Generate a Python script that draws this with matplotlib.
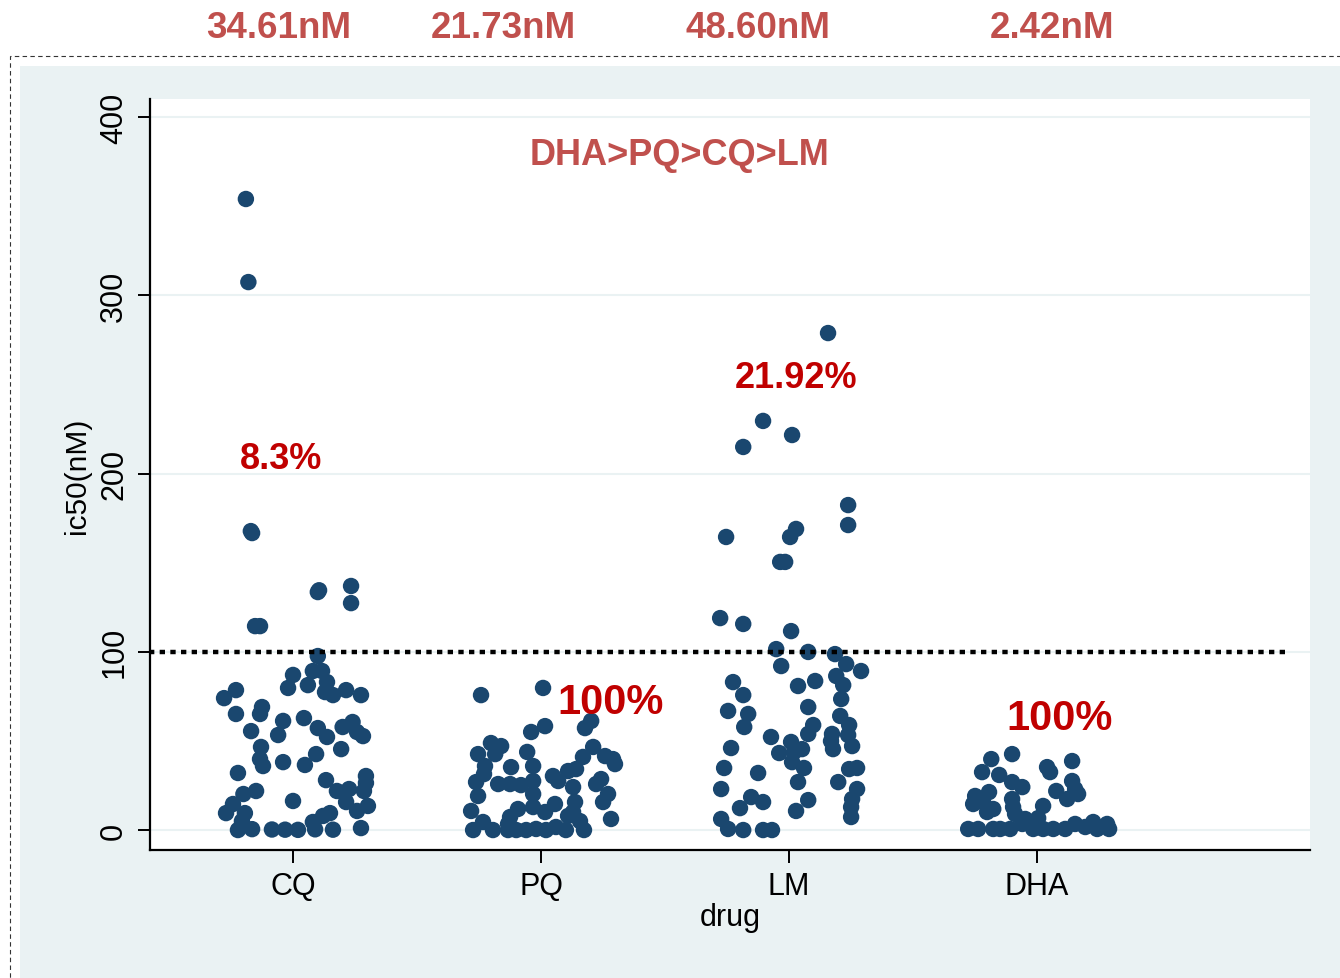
import numpy as np
import matplotlib
matplotlib.use("Agg")
import matplotlib.pyplot as plt
from matplotlib.patches import Rectangle

plt.rcParams['font.family'] = ['Liberation Sans', 'DejaVu Sans']

drugs = ["CQ", "PQ", "LM", "DHA"]
medians = ["34.61nM", "21.73nM", "48.60nM", "2.42nM"]
pct_labels = ["8.3%", "100%", "21.92%", "100%"]
ranking = "DHA>PQ>CQ>LM"
cutoff = 100

# ic50 values (nM) with the horizontal jitter seen in the picture
cq_ic50 = [354, 307.4, 166.6, 167.7, 114.4, 114.4, 133.5, 134.5, 136.9, 127.3,
           97.6, 87, 89.2, 89.2, 83, 79.7, 81.3, 78.5, 74, 77.4, 75.7, 78.5, 75.7,
           65.1, 69, 65.1, 61.2, 62.8, 57.2, 52.2, 57.8, 60.6, 55, 52.7, 55.5, 53.3,
           46.6, 45.4, 42.6, 39.8, 35.9, 38.1, 36.5, 32, 30.3, 26.4, 28, 21.9, 21.9,
           23, 20.2, 21.9, 15.7, 16.3, 14.6, 9.5, 9.5, 5, 10.7, 13.5, 9.5, 7.9, 4.5,
           0, 0.5, 0.3, 0.2, 0.1, 0.4, 0.2, 1.1]
cq_jitter = [-0.19, -0.18, -0.165, -0.17, -0.153, -0.133, 0.10, 0.105, 0.234, 0.234,
             0.10, 0.0, 0.08, 0.117, 0.137, -0.02, 0.06, -0.23, -0.278, 0.129, 0.161, 0.214, 0.274,
             -0.23, -0.125, -0.133, -0.04, 0.044, 0.10, 0.137, 0.20, 0.24, 0.258, 0.282, -0.169, -0.06,
             -0.129, 0.194, 0.093, -0.133, -0.121, -0.04, 0.048, -0.222, 0.294, 0.294, 0.133, 0.286, 0.177,
             0.226, -0.2, -0.149, 0.214, 0.0, -0.242, -0.27, -0.194, -0.206, 0.258, 0.302, 0.149, 0.121, 0.08,
             -0.222, -0.165, -0.085, -0.032, 0.02, 0.089, 0.161, 0.274]

pq_ic50 = [75.7, 79.7, 61.2, 57.2, 58.3, 55, 48.8, 47.1, 42.6, 42.6, 43.8, 46.6, 41,
           41.5, 39.8, 35.9, 35.3, 35.9, 37, 33.1, 34.2, 30.3, 31.4, 26.9, 25.8, 25.8,
           25.2, 27.5, 27.5, 28.6, 25.8, 24.1, 19.1, 20.2, 20.2, 15.7, 15.7, 14.6, 10.7,
           11.8, 12.9, 10.1, 7.3, 10.1, 7.9, 5, 6.2, 4.5, 3.4, 0, 0, 0, 0, 0, 0.6, 0,
           1.7, 0, 0]
pq_jitter = [-0.242, 0.008, 0.202, 0.177, 0.016, -0.04, -0.202, -0.161, -0.254, -0.185, -0.056, 0.21, 0.169,
             0.258, 0.29, -0.226, -0.121, -0.032, 0.298, 0.109, 0.141, 0.048, -0.23, -0.262, -0.173, -0.125,
             -0.081, -0.032, 0.069, 0.242, 0.222, 0.129, -0.254, -0.032, 0.27, 0.25, 0.137, 0.056, -0.282,
             -0.093, -0.032, 0.016, -0.125, 0.129, 0.109, 0.157, 0.282, -0.234, -0.133, -0.274, -0.194, -0.133, -0.1, -0.06, -0.02, 0.02,
             0.06, 0.1, 0.173]

lm_ic50 = [278.8, 229.5, 221.6, 214.9, 182.3, 171.1, 168.9, 164.4, 164.4, 150.4, 150.4,
           118.9, 115.6, 111.6, 101.5, 99.9, 98.7, 93.1, 89.2, 92, 86.4, 83, 83.6, 80.8,
           81.3, 75.7, 73.5, 69, 66.8, 65.1, 64, 57.8, 58.9, 58.9, 53.9, 53.9, 53.3, 52.2,
           49.4, 49.9, 47.1, 46, 43.2, 45.4, 43.8, 45.4, 38.1, 34.8, 34.2, 34.8, 34.8, 32,
           26.9, 26.9, 23, 23, 18.5, 15.7, 16.8, 17.4, 12.3, 12.9, 10.7, 7.3, 6.2, 0.6, 0, 0, 0]
lm_jitter = [0.157, -0.105, 0.012, -0.185, 0.238, 0.238, 0.028, 0.004, -0.254, -0.036, -0.016,
             -0.278, -0.185, 0.008, -0.052, 0.077, 0.185, 0.23, 0.29, -0.032, 0.19, -0.226, 0.105, 0.036,
             0.218, -0.185, 0.21, 0.077, -0.246, -0.165, 0.206, -0.181, 0.097, 0.242, 0.077, 0.173, 0.238, -0.073,
             0.008, 0.169, 0.254, -0.234, -0.04, 0.052, 0.02, 0.177, 0.012, 0.06, 0.242, 0.274, -0.262, -0.125,
             0.198, 0.036, -0.274, 0.274, -0.153, -0.105, 0.077, 0.254, -0.198, 0.25, 0.028, 0.25, -0.274, -0.246, -0.185, -0.105, -0.069]

dha_ic50 = [42.6, 39.8, 38.7, 35.3, 32.5, 32.5, 30.9, 27.5, 26.9, 24.1, 21.9, 23, 20.2,
            17.4, 21.3, 19.1, 17.4, 14.6, 15.7, 13.5, 12.9, 11.8, 10.1, 9, 6.7, 6.2, 3.4,
            0.6, 0.6, 0.6, 0.6, 0.6, 0.6, 0.6, 0.6, 0.6, 3.4, 1.7, 4.5, 0.6, 3.4, 0.6]
dha_jitter = [-0.101, -0.185, 0.141, 0.04, 0.052, -0.222, -0.153, 0.141, -0.101, -0.06, 0.077, 0.153, 0.165,
              0.121, -0.194, -0.25, -0.101, -0.258, -0.218, 0.024, -0.097, -0.177, -0.202, -0.089, 0.004, -0.048, -0.06,
              -0.278, -0.238, -0.177, -0.149, -0.109, -0.016, 0.024, 0.065, 0.113, 0.153, 0.194, 0.226, 0.242, 0.282, 0.29]

groups = [(cq_jitter, cq_ic50), (pq_jitter, pq_ic50), (lm_jitter, lm_ic50), (dha_jitter, dha_ic50)]

W, H = 1340, 979
fig = plt.figure(figsize=(W / 100, H / 100), dpi=100)
fig.patch.set_facecolor('white')

# outer graph region with dashed frame (drawn beneath the axes)
fig.patches.append(Rectangle((20 / W, 0), 1 - 20 / W, 1 - 67 / H, transform=fig.transFigure,
                             facecolor='#eaf2f3', edgecolor='none', zorder=-2))
fig.patches.append(Rectangle((10 / W, -0.01), 1.0, 1.01 - 57 / H, transform=fig.transFigure,
                             facecolor='none', edgecolor='#333333', linestyle=(0, (4, 3)),
                             linewidth=0.8, zorder=-1))

ax = fig.add_axes([150 / W, 1 - 851 / H, (1310 - 150) / W, (851 - 100) / H])
ax.set_facecolor('white')

for i, (jit, vals) in enumerate(groups):
    ax.scatter(np.array(jit) + i + 1, vals, s=140, color='#1a476f', edgecolors='none', zorder=3)

ax.hlines(cutoff, 0.42, 5.01, colors='black', linewidth=3.2, linestyles=[(0, (1.2, 1.2))], zorder=4)

ax.set_xlim(0.4234, 5.1)
ax.set_ylim(-11.2, 410.1)
ax.set_xticks(range(1, 5))
ax.set_xticklabels(drugs, fontsize=22)
ax.set_yticks([0, 100, 200, 300, 400])
ax.set_yticklabels(['0', '100', '200', '300', '400'], fontsize=22, rotation=90, va='center')
ax.grid(axis='y', color='#eaf2f3', linewidth=1.5, zorder=0)
ax.set_axisbelow(True)
for s in ['top', 'right']:
    ax.spines[s].set_visible(False)
for s in ['left', 'bottom']:
    ax.spines[s].set_linewidth(1.6)
ax.tick_params(axis='both', length=9, width=1.4, pad=6)
ax.set_xlabel('drug', fontsize=22, labelpad=1)
ax.set_ylabel('ic50(nM)', fontsize=21.5, labelpad=6)

pct_pos = [(0.95, 208.7, 26), (2.28, 71.8, 30), (3.03, 254, 26), (4.09, 62.8, 30)]
for lab, (x, y, fs) in zip(pct_labels, pct_pos):
    ax.text(x, y, lab, color='#c00000', fontsize=fs, fontweight='bold', ha='center', va='center', zorder=5)

ax.text(2.56, 379, ranking, color='#c0504d', fontsize=26, fontweight='bold', ha='center', va='center')

for lab, px in zip(medians, [279, 503, 758, 1052]):
    fig.text(px / W, 1 - 29 / H, lab, color='#c0504d', fontsize=26.5, fontweight='bold',
             ha='center', va='center')

fig.savefig('out.png', dpi=100)
